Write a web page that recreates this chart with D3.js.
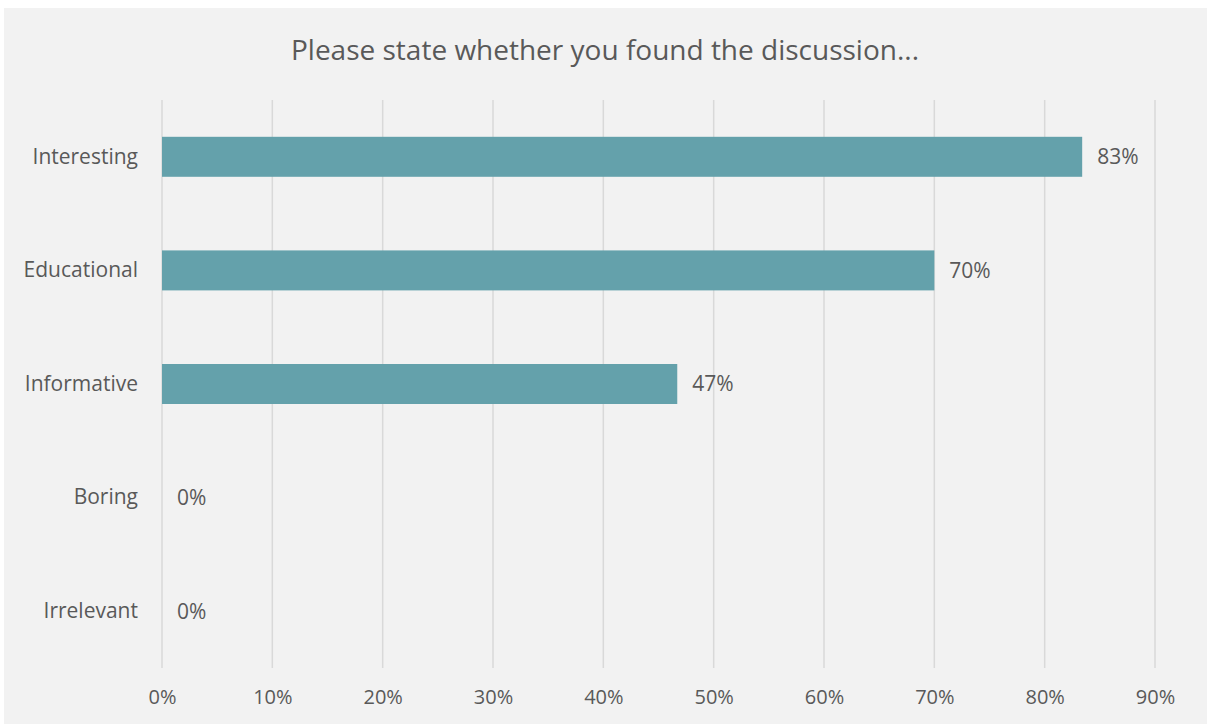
<!DOCTYPE html>
<html>
<head>
<meta charset="utf-8">
<script src="https://cdn.jsdelivr.net/npm/d3@7"></script>
<style>
  body { margin: 0; background: #fff; }
  text { font-family: "Open Sans", "Noto Sans", sans-serif; fill: #595959; }
</style>
</head>
<body>
<div id="chart"></div>
<script>
const title = "Please state whether you found the discussion...";
const categories = ["Interesting", "Educational", "Informative", "Boring", "Irrelevant"];
const values = [83.4, 70.0, 46.7, 0, 0];
const valueLabels = ["83%", "70%", "47%", "0%", "0%"];
const ticks = [0, 10, 20, 30, 40, 50, 60, 70, 80, 90];

const width = 1207, height = 724;
const margin = { top: 100, bottom: 56, left: 162, right: 52 };

const svg = d3.select("#chart").append("svg")
    .attr("width", width)
    .attr("height", height);

svg.append("rect")
    .attr("x", 4).attr("y", 8)
    .attr("width", width - 4).attr("height", height - 8)
    .attr("fill", "#f2f2f2");

const xScale = d3.scaleLinear()
    .domain([0, 90])
    .range([margin.left, width - margin.right]);
const yScale = d3.scaleBand()
    .domain(categories)
    .range([margin.top, height - margin.bottom])
    .paddingInner(0.648)
    .paddingOuter(0.324);

// gridlines
svg.append("g")
    .selectAll("line")
    .data(ticks)
    .enter()
    .append("line")
    .attr("x1", d => xScale(d)).attr("x2", d => xScale(d))
    .attr("y1", margin.top).attr("y2", height - margin.bottom)
    .attr("stroke", "#d9d9d9")
    .attr("stroke-width", 1.5);

const xAxis = d3.axisBottom(xScale)
    .tickValues(ticks)
    .tickSize(0)
    .tickPadding(22)
    .tickFormat(d => d + "%");
svg.append("g")
    .attr("transform", `translate(0, ${height - margin.bottom})`)
    .call(xAxis)
    .call(g => g.select(".domain").remove())
    .selectAll("text")
    .style("font-size", "20px")
    .style("font-family", "\"Open Sans\", sans-serif")
    .attr("fill", "#595959");

const yAxis = d3.axisLeft(yScale)
    .tickSize(0)
    .tickPadding(24);
svg.append("g")
    .attr("transform", `translate(${margin.left}, 0)`)
    .call(yAxis)
    .call(g => g.select(".domain").remove())
    .selectAll("text")
    .style("font-size", "21px")
    .style("font-family", "\"Open Sans\", sans-serif")
    .attr("fill", "#595959");

svg.append("g")
    .selectAll("rect")
    .data(categories)
    .enter()
    .append("rect")
    .attr("x", xScale(0))
    .attr("y", d => yScale(d))
    .attr("width", (d, i) => xScale(values[i]) - xScale(0))
    .attr("height", yScale.bandwidth())
    .attr("fill", "#64a1ab");

svg.append("g")
    .selectAll("text")
    .data(categories)
    .enter()
    .append("text")
    .attr("x", (d, i) => xScale(values[i]) + 15)
    .attr("y", d => yScale(d) + yScale.bandwidth() / 2)
    .attr("dy", "0.35em")
    .style("font-size", "21px")
    .attr("fill", "#404040")
    .text((d, i) => valueLabels[i]);

svg.append("text")
    .attr("x", 605)
    .attr("y", 50)
    .attr("dy", "0.35em")
    .attr("text-anchor", "middle")
    .style("font-size", "28px")
    .text(title);
</script>
</body>
</html>
